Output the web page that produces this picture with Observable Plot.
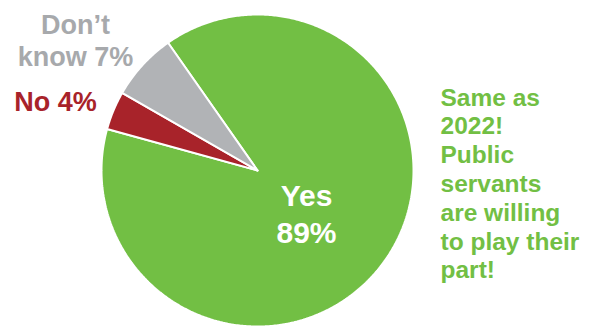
<!DOCTYPE html>
<html>
<head>
<meta charset="utf-8">
<script src="https://cdn.jsdelivr.net/npm/d3@7"></script>
<script src="https://cdn.jsdelivr.net/npm/@observablehq/plot@0.6"></script>
<style>
  html, body { margin: 0; padding: 0; background: #fff; }
  #chart svg { display: block; }
</style>
</head>
<body>
<div id="chart"></div>
<script>
// ---- data ----
const categories = ["Yes", "No", "Don’t know"];
const values = [89, 4, 7];
const sliceColors = ["#72bf44", "#a8232a", "#b1b3b6"];
const noteLines = ["Same as", "2022!", "Public", "servants", "are willing", "to play their", "part!"];

// ---- layout ----
const W = 595, H = 327;
const cx = 257, cy = 170, R = 156;
const startDeg = -35;

const pie = d3.pie().sort(null).value(d => d.value)
  .startAngle(startDeg * Math.PI / 180)
  .endAngle(startDeg * Math.PI / 180 + 2 * Math.PI);
const arcs = pie(categories.map((c, i) => ({label: c, value: values[i]})));

// slice outlines (center -> arc -> center)
const pts = [];
for (const a of arcs) {
  const label = a.data.label;
  pts.push({label, x: cx, y: cy});
  const n = Math.max(8, Math.ceil((a.endAngle - a.startAngle) / 0.01));
  for (let k = 0; k <= n; k++) {
    const t = a.startAngle + (a.endAngle - a.startAngle) * k / n;
    pts.push({label, x: cx + R * Math.sin(t), y: cy - R * Math.cos(t)});
  }
  pts.push({label, x: cx, y: cy});
}

const pct = v => `${v}%`;
const textItems = [
  {text: "Don’t", x: 75, y: 33, color: "#a7a9ac", size: 27, anchor: "middle"},
  {text: `know ${pct(values[2])}`, x: 75, y: 65, color: "#a7a9ac", size: 27, anchor: "middle"},
  {text: `No ${pct(values[1])}`, x: 55, y: 110, color: "#a8232a", size: 27, anchor: "middle"},
  {text: "Yes", x: 306, y: 205, color: "#ffffff", size: 30, anchor: "middle"},
  {text: pct(values[0]), x: 306, y: 242, color: "#ffffff", size: 30, anchor: "middle"},
  ...noteLines.map((t, i) => ({text: t, x: 440, y: 105 + i * 28.8, color: "#72bf44", size: 24.5, anchor: "start"}))
];

const textMarks = textItems.map(d => Plot.text([d], {
  x: "x", y: "y", text: "text",
  fill: d.color, fontSize: d.size, fontWeight: "bold",
  textAnchor: d.anchor, lineAnchor: "bottom",
  fontFamily: "'Liberation Sans', Arial, Helvetica, sans-serif"
}));

const chart = Plot.plot({
  width: W, height: H,
  margin: 0,
  x: {domain: [0, W], range: [0, W], axis: null},
  y: {domain: [0, H], range: [0, H], axis: null},
  color: {domain: categories, range: sliceColors},
  style: {background: "#fff", fontFamily: "'Liberation Sans', Arial, sans-serif"},
  marks: [
    Plot.line(pts, {x: "x", y: "y", z: "label", fill: "label", stroke: "white", strokeWidth: 2, strokeLinejoin: "miter", curve: "linear"}),
    ...textMarks
  ]
});
document.getElementById("chart").appendChild(chart);
</script>
</body>
</html>
